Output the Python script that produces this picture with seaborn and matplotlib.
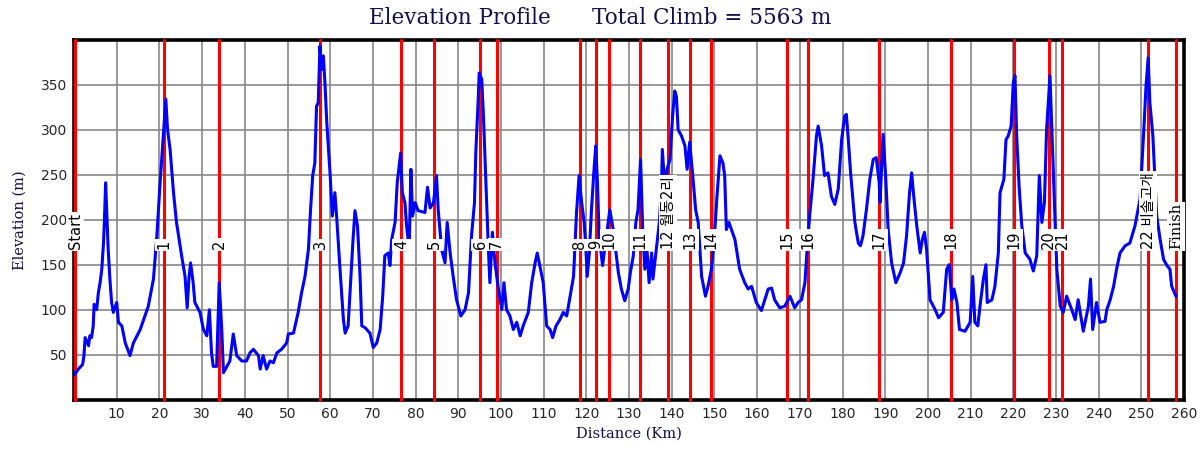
import matplotlib
matplotlib.use('Agg')
import matplotlib.pyplot as plt
import seaborn as sns

# elevation profile (km, m)
dist_km = [0.0, 0.2, 1.0, 2.0, 2.3, 2.6, 3.4, 3.7, 4.1, 4.5, 4.7, 5.3, 5.7, 6.1, 6.5, 6.9, 7.1, 7.4, 7.7, 8.0,
           8.4, 8.8, 9.2, 10.0, 10.4, 11.2, 12.0, 13.1, 13.9, 15.5, 17.4, 18.6, 19.4, 20.1, 20.9, 21.5, 21.9, 22.5, 23.3, 24.0,
           25.2, 26.0, 26.5, 26.9, 27.3, 27.9, 28.3, 29.5, 30.3, 31.1, 31.7, 32.2, 32.6, 33.4, 34.0, 34.6, 35.0, 35.8, 36.5, 37.3,
           38.1, 39.3, 40.4, 41.2, 42.0, 43.2, 43.6, 44.3, 45.1, 45.9, 46.7, 47.5, 48.6, 49.8, 50.2, 51.4, 52.5, 53.3, 54.1, 54.9,
           55.4, 55.9, 56.4, 56.8, 57.2, 57.6, 58.0, 58.4, 58.8, 59.2, 60.0, 60.5, 61.1, 61.5, 62.3, 63.1, 63.5, 64.2, 64.6, 65.3,
           65.8, 66.4, 67.0, 67.4, 68.2, 69.3, 70.1, 70.9, 71.7, 72.3, 72.8, 73.6, 74.0, 74.4, 75.2, 75.7, 76.5, 76.9, 77.5, 77.9,
           78.5, 78.9, 79.3, 79.9, 80.6, 82.2, 82.8, 83.4, 84.2, 84.9, 85.3, 86.1, 86.9, 87.4, 88.1, 88.8, 89.6, 90.6, 91.6, 92.4,
           93.1, 93.8, 94.1, 94.7, 94.9, 95.5, 95.9, 96.5, 97.0, 97.4, 98.0, 98.6, 99.4, 100.2, 100.7, 101.3, 102.1, 102.9, 103.7, 104.5,
           105.2, 106.4, 107.2, 108.0, 108.5, 109.1, 109.9, 110.7, 111.5, 112.1, 112.9, 113.8, 114.6, 115.4, 116.2, 117.0, 117.7, 118.3, 118.9, 119.5,
           119.9, 120.2, 120.7, 121.2, 121.8, 122.2, 122.6, 123.0, 123.8, 124.4, 125.1, 125.5, 126.3, 127.5, 128.2, 129.0, 129.8, 130.3, 131.0, 131.6,
           132.1, 132.7, 133.2, 133.7, 134.2, 134.7, 135.3, 135.6, 136.3, 137.1, 137.6, 137.8, 138.4, 138.9, 139.6, 140.2, 140.7, 141.1, 141.5, 142.3,
           143.1, 143.6, 144.2, 145.0, 145.6, 146.2, 147.0, 147.9, 148.5, 149.3, 150.1, 150.6, 151.3, 152.0, 152.4, 152.8, 153.4, 154.0, 154.8, 155.9,
           157.1, 157.9, 158.7, 159.8, 161.0, 161.8, 162.6, 163.4, 164.1, 165.3, 166.5, 167.7, 168.3, 168.8, 169.6, 170.4, 171.2, 171.7, 172.3, 173.1,
           173.9, 174.3, 175.1, 175.8, 176.6, 177.4, 178.2, 179.0, 179.8, 180.5, 180.9, 181.3, 181.9, 182.9, 183.7, 184.2, 184.8, 185.6, 186.4, 187.2,
           187.9, 188.6, 188.8, 189.5, 190.1, 190.7, 191.5, 192.5, 193.5, 194.3, 195.0, 195.7, 196.2, 196.6, 197.4, 198.2, 198.7, 199.2, 199.7, 200.5,
           201.7, 202.5, 203.6, 204.4, 205.0, 205.6, 206.1, 206.8, 207.4, 208.7, 209.9, 210.5, 211.0, 211.7, 212.2, 213.0, 213.6, 213.9, 215.0, 215.7,
           216.5, 216.9, 217.8, 218.3, 218.8, 219.5, 220.0, 220.4, 220.8, 221.4, 222.0, 222.8, 223.9, 224.7, 225.5, 226.1, 226.7, 227.3, 227.8, 228.6,
           229.2, 229.8, 230.2, 231.0, 231.7, 232.5, 233.7, 234.5, 235.2, 236.4, 237.6, 238.1, 238.6, 239.5, 240.3, 241.5, 241.9, 242.7, 243.5, 244.2,
           245.0, 246.2, 247.3, 248.5, 249.7, 250.5, 251.1, 251.6, 252.0, 252.7, 253.0, 253.6, 254.4, 255.2, 256.0, 256.7, 257.1, 257.9, 258.1]
elev_m = [30, 28, 34, 39, 48, 69, 60, 71, 69, 82, 106, 100, 119, 130, 145, 174, 197, 241, 204, 167,
          134, 108, 97, 108, 86, 82, 63, 49, 63, 78, 104, 134, 182, 237, 293, 334, 300, 278, 230, 197,
          160, 137, 102, 134, 152, 130, 108, 97, 78, 71, 100, 52, 37, 37, 130, 78, 30, 37, 43, 73,
          49, 43, 43, 52, 56, 49, 34, 49, 34, 43, 41, 52, 56, 63, 73, 74, 97, 119, 137, 167,
          211, 249, 263, 326, 330, 393, 367, 382, 349, 308, 249, 204, 230, 204, 145, 89, 74, 82, 115, 174,
          210, 193, 137, 82, 80, 74, 58, 63, 78, 115, 160, 163, 149, 178, 197, 241, 274, 230, 219, 193,
          167, 256, 204, 219, 210, 208, 236, 213, 219, 249, 211, 167, 152, 197, 163, 137, 111, 93, 100, 119,
          182, 219, 274, 337, 363, 356, 315, 237, 174, 130, 186, 152, 123, 100, 130, 100, 93, 78, 86, 71,
          82, 97, 130, 152, 163, 149, 130, 82, 78, 69, 82, 89, 97, 93, 115, 137, 208, 249, 219, 197,
          167, 137, 163, 211, 256, 282, 241, 182, 149, 171, 197, 211, 189, 141, 123, 110, 123, 141, 160, 197,
          211, 267, 189, 145, 167, 130, 163, 134, 163, 197, 237, 278, 234, 256, 267, 315, 343, 337, 300, 293,
          282, 256, 286, 245, 211, 197, 137, 115, 126, 145, 189, 226, 271, 263, 249, 189, 197, 189, 178, 145,
          130, 123, 126, 108, 99, 111, 123, 124, 111, 102, 104, 115, 108, 102, 108, 111, 130, 167, 204, 245,
          293, 304, 282, 249, 252, 226, 217, 234, 289, 315, 317, 293, 252, 197, 174, 171, 182, 211, 245, 267,
          269, 241, 219, 295, 249, 189, 152, 130, 141, 152, 182, 230, 252, 230, 193, 163, 178, 186, 167, 111,
          100, 91, 97, 145, 150, 111, 123, 108, 78, 76, 86, 137, 86, 82, 104, 134, 150, 108, 111, 126,
          163, 230, 245, 289, 293, 304, 352, 360, 293, 234, 193, 163, 156, 143, 160, 249, 197, 219, 300, 360,
          278, 197, 145, 104, 97, 115, 100, 89, 111, 76, 104, 134, 78, 108, 86, 87, 100, 111, 126, 145,
          163, 171, 174, 193, 223, 293, 349, 380, 330, 293, 263, 204, 178, 156, 149, 145, 126, 117, 115]

# checkpoints
cp_km = [0.3, 21.0, 34.0, 57.6, 76.7, 84.3, 95.1, 99.0, 118.5, 122.2, 125.4, 132.6, 139.2, 144.3, 149.3,
         167.1, 172.0, 188.6, 205.3, 220.1, 228.3, 231.5, 251.6, 258.1]
cp_labels = ['Start', '1', '2', '3', '4', '5', '6', '7', '8', '9', '10', '11', '12 월동2리', '13', '14',
             '15', '16', '17', '18', '19', '20', '21', '22 비솔고개', 'Finish']

x_ticks = list(range(10, 261, 10))
y_ticks = list(range(50, 351, 50))

navy = '#10104e'

sns.set_style('whitegrid')
plt.rcParams['font.family'] = ['DejaVu Sans', 'Noto Sans CJK KR']

fig = plt.figure(figsize=(12, 4.5), dpi=100)
ax = fig.add_axes([0.0617, 0.1118, 0.925, 0.8])

for d in cp_km:
    ax.axvline(d, color='#ff0000', lw=2.2, zorder=3, clip_on=False)

sns.lineplot(x=dist_km, y=elev_m, color='#0000ff', linewidth=2.2, sort=False, estimator=None, ax=ax, zorder=4)

for d, lab in zip(cp_km, cp_labels):
    fam = ['DejaVu Serif'] if lab == 'Finish' else ['DejaVu Sans', 'Noto Sans CJK KR']
    ax.text(d, 167, lab, rotation=90, ha='center', va='bottom', fontsize=10.5, family=fam, color='black',
            zorder=6, bbox=dict(facecolor='white', edgecolor='none', pad=1.2))

ax.set_xlim(0, 260)
ax.set_ylim(0, 400)
ax.set_xticks(x_ticks)
ax.set_yticks(y_ticks)
ax.tick_params(length=0, labelsize=10, pad=5)
ax.grid(True, color='#888888', lw=1.2)
for s in ax.spines.values():
    s.set_visible(True)
    s.set_color('black')
    s.set_linewidth(2.6)
    s.set_zorder(2)

ax.set_xlabel('Distance (Km)', family='DejaVu Serif', fontsize=10.5, color=navy, labelpad=4)
ax.set_ylabel('Elevation (m)', family='DejaVu Serif', fontsize=10.5, color=navy, labelpad=10)
fig.text(0.5, 0.96, 'Elevation Profile      Total Climb = 5563 m', ha='center', va='center',
         family='DejaVu Serif', fontsize=15.5, color=navy)

plt.savefig('out.png')
plt.close()
